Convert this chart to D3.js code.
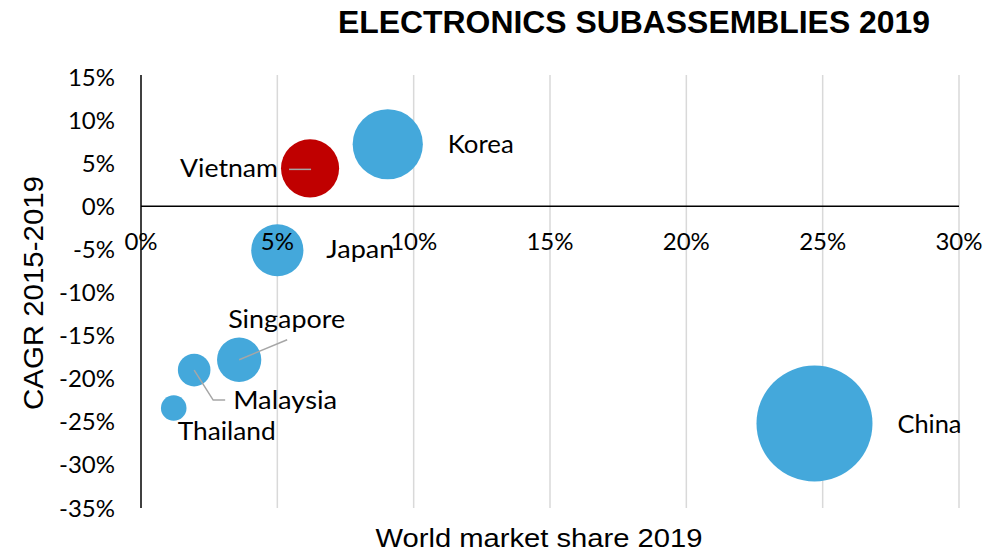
<!DOCTYPE html>
<html><head><meta charset="utf-8">
<script src="https://cdn.jsdelivr.net/npm/d3@7"></script>
<style>html,body{margin:0;padding:0;background:#fff;}</style>
</head><body>
<svg id="c" width="1000" height="554"></svg>
<script>
// ---- data ----
const countries = ["China","Korea","Vietnam","Japan","Singapore","Malaysia","Thailand"];
const marketShare = [24.7, 9.05, 6.2, 5.0, 3.6, 1.95, 1.2];      // % world market share 2019
const cagr = [-25.2, 7.2, 4.4, -5.1, -17.8, -19.0, -23.4];      // % CAGR 2015-2019
const bubbleSize = [24.7, 9.05, 6.2, 5.0, 3.6, 1.95, 1.2];
const highlight = ["Vietnam"];
const xTicks = [0, 5, 10, 15, 20, 25, 30];
const yTicks = [15, 10, 5, 0, -5, -10, -15, -20, -25, -30, -35];

// ---- label layout (pixels, relative to bubble centre) ----
const labelLayout = {
  China:     {dx: 83, dy: 9, anchor: "start", w: 64},
  Korea:     {dx: 60, dy: 9, anchor: "start", w: 66},
  Vietnam:   {dx: -32, dy: 9, anchor: "end", w: 98, leader: [[-21, 1], [1, 1]]},
  Japan:     {dx: 49, dy: 8, anchor: "start", w: 68},
  Singapore: {dx: -11, dy: -32, anchor: "start", w: 117, leader: [[0, 0], [48, -20]]},
  Malaysia:  {dx: 39, dy: 39, anchor: "start", w: 104, leader: [[0, 0], [19, 30], [31, 30]]},
  Thailand:  {dx: 4, dy: 32, anchor: "start", w: 98}
};

const svg = d3.select("#c");
const x = d3.scaleLinear().domain([0, 30]).range([141, 959]);
const y = d3.scaleLinear().domain([-35, 15]).range([508, 77]);
const r = d3.scaleSqrt().domain([0, d3.max(bubbleSize)]).range([0, 58]);

// gridlines
svg.append("g").selectAll("line").data(xTicks.filter(d => d > 0)).join("line")
  .attr("x1", d => x(d)).attr("x2", d => x(d))
  .attr("y1", y(15) - 2).attr("y2", y(-35))
  .attr("stroke", "#d9d9d9").attr("stroke-width", 1.5);

// axis lines
svg.append("line").attr("x1", x(0)).attr("x2", x(0)).attr("y1", y(15) - 2).attr("y2", y(-35))
  .attr("stroke", "#000").attr("stroke-width", 1.5);
svg.append("line").attr("x1", x(0)).attr("x2", x(30)).attr("y1", y(0)).attr("y2", y(0))
  .attr("stroke", "#000").attr("stroke-width", 1.5);

const data = countries.map((c, i) => ({c, x: marketShare[i], y: cagr[i], s: bubbleSize[i]}));

// bubbles
svg.append("g").selectAll("circle").data(data).join("circle")
  .attr("cx", d => x(d.x)).attr("cy", d => y(d.y)).attr("r", d => r(d.s))
  .attr("fill", d => highlight.includes(d.c) ? "#C00000" : "#44A8DB");

// leader lines
data.forEach(d => {
  const L = labelLayout[d.c];
  if (!L.leader) return;
  svg.append("polyline")
    .attr("points", L.leader.map(p => [x(d.x) + p[0], y(d.y) + p[1]].join(",")).join(" "))
    .attr("fill", "none").attr("stroke", "#a6a6a6").attr("stroke-width", 1.5);
});

// data labels
svg.append("g").selectAll("text").data(data).join("text")
  .attr("x", d => x(d.x) + labelLayout[d.c].dx)
  .attr("y", d => y(d.y) + labelLayout[d.c].dy)
  .attr("text-anchor", d => labelLayout[d.c].anchor)
  .attr("textLength", d => labelLayout[d.c].w)
  .attr("lengthAdjust", "spacingAndGlyphs")
  .style("font-family", "Lato, 'Open Sans', sans-serif").style("font-size", "25px").attr("fill", "#000")
  .text(d => d.c);

// y tick labels
svg.append("g").selectAll("text").data(yTicks).join("text")
  .attr("x", 115).attr("y", d => y(d) + 8.5).attr("text-anchor", "end")
  .style("font-family", "Lato, 'Open Sans', sans-serif").style("font-size", "24px").attr("fill", "#000")
  .text(d => d + "%");

// x tick labels
svg.append("g").selectAll("text").data(xTicks).join("text")
  .attr("x", d => x(d)).attr("y", 250).attr("text-anchor", "middle")
  .style("font-family", "Lato, 'Open Sans', sans-serif").style("font-size", "24px").attr("fill", "#000")
  .text(d => d + "%");

// titles
svg.append("text").attr("x", 634).attr("y", 33).attr("text-anchor", "middle")
  .attr("textLength", 592).attr("lengthAdjust", "spacingAndGlyphs")
  .style("font-family", "'Liberation Sans', Arial, sans-serif").style("font-weight", "bold").style("font-size", "31px")
  .text("ELECTRONICS SUBASSEMBLIES 2019");

svg.append("text").attr("x", 539).attr("y", 547).attr("text-anchor", "middle")
  .attr("textLength", 327).attr("lengthAdjust", "spacingAndGlyphs")
  .style("font-family", "'Liberation Sans', Arial, sans-serif").style("font-size", "26px")
  .text("World market share 2019");

svg.append("text").attr("transform", "translate(43,293) rotate(-90)").attr("text-anchor", "middle")
  .attr("textLength", 234).attr("lengthAdjust", "spacingAndGlyphs")
  .style("font-family", "'Liberation Sans', Arial, sans-serif").style("font-size", "27px")
  .text("CAGR 2015-2019");
</script>
</body></html>
